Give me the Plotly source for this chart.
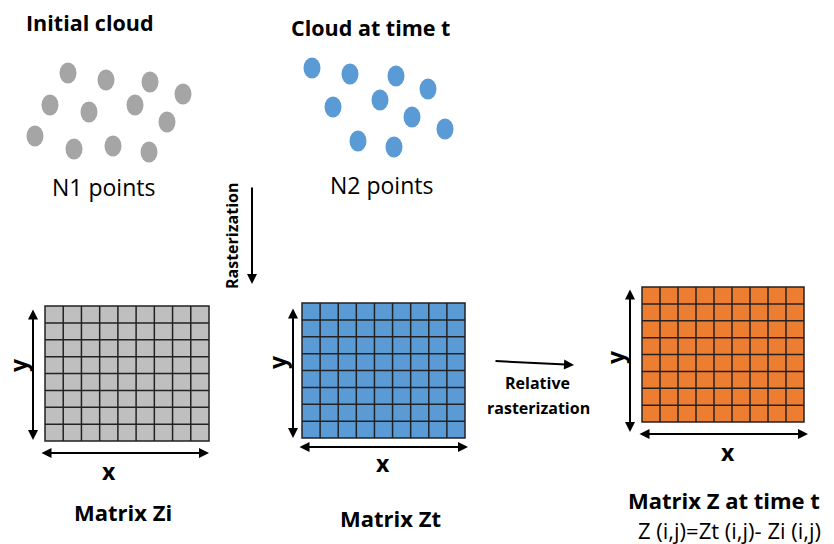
import plotly.graph_objects as go

W, H = 834, 544

# point clouds (pixel centres)
initial_x = [68, 106, 150, 183, 50, 89, 135, 167, 35, 74, 113, 149]
initial_y = [73, 80, 82, 94, 105, 112, 105, 122, 136, 149, 146, 152]
later_x = [312, 350, 396, 428, 333, 380, 412, 445, 358, 394]
later_y = [68, 74, 76, 89, 107, 100, 117, 129, 141, 147]

# matrices: left, right, top, bottom
n_cols, n_rows = 9, 8
matrix_names = ["Zi", "Zt", "Z"]
matrix_box = [(45, 209, 306, 441), (302, 465, 303, 438), (642, 804, 287, 422)]
matrix_fill = ["#BFBFBF", "#5B9BD5", "#ED7D31"]

GRAY = "#A5A5A5"
BLUE = "#5B9BD5"
FONT = "Open Sans"

fig = go.Figure()
shapes = []

# dots as ellipses
for xs, ys, col in [(initial_x, initial_y, GRAY), (later_x, later_y, BLUE)]:
    for cx, cy in zip(xs, ys):
        shapes.append(dict(type="circle", xref="x", yref="y",
                           x0=cx - 8.5, x1=cx + 8.5, y0=cy - 10.5, y1=cy + 10.5,
                           fillcolor=col, line=dict(width=0)))

# grids
for (l, r, t, b), col in zip(matrix_box, matrix_fill):
    shapes.append(dict(type="rect", xref="x", yref="y", x0=l, x1=r, y0=t, y1=b,
                       fillcolor=col, line=dict(color="#222222", width=1.5)))
    for i in range(1, n_cols):
        xx = l + (r - l) * i / n_cols
        shapes.append(dict(type="line", xref="x", yref="y", x0=xx, x1=xx, y0=t, y1=b,
                           line=dict(color="#222222", width=1.5)))
    for j in range(1, n_rows):
        yy = t + (b - t) * j / n_rows
        shapes.append(dict(type="line", xref="x", yref="y", x0=l, x1=r, y0=yy, y1=yy,
                           line=dict(color="#222222", width=1.5)))

annotations = []


def text(x, y, s, size=22, bold=True, angle=0):
    annotations.append(dict(x=x, y=y, xref="x", yref="y", text=("<b>%s</b>" % s) if bold else s,
                            showarrow=False, textangle=angle,
                            font=dict(family=FONT, size=size, color="black"),
                            xanchor="center", yanchor="middle"))


def arrow(x0, y0, x1, y1, both=False):
    annotations.append(dict(x=x1, y=y1, ax=x0, ay=y0, xref="x", yref="y",
                            axref="x", ayref="y", text="", showarrow=True,
                            arrowhead=2, arrowsize=1, arrowwidth=2, arrowcolor="black",
                            startarrowhead=2, startarrowsize=1,
                            arrowside="end+start" if both else "end"))


text(90, 22, "Initial cloud", size=21.5)
text(370, 27, "Cloud at time t", size=21.5)
text(103, 187, "N1 points", size=23, bold=False)
text(381, 185, "N2 points", size=23, bold=False)

arrow(252, 186, 252, 284)
text(232, 236, "Rasterization", size=16, angle=-90)

# axis arrows and labels of the three matrices
arrow(33, 308, 33, 440, both=True)
arrow(40, 453, 209, 453, both=True)
text(18, 365, "y", size=23, angle=-90)
text(109, 471, "x", size=23)
text(123, 512, "Matrix Zi")

arrow(293, 307, 293, 438, both=True)
arrow(298, 447, 468, 447, both=True)
text(277, 362, "y", size=23, angle=-90)
text(383, 463, "x", size=23)
text(390, 518, "Matrix Zt")

arrow(630, 288, 630, 432, both=True)
arrow(638, 434, 808, 434, both=True)
text(615, 357, "y", size=23, angle=-90)
text(728, 452, "x", size=23)

arrow(494, 361, 574, 365)
text(537, 383, "Relative", size=16)
text(538, 408, "rasterization", size=16)

text(724, 500, "Matrix Z at time t")
text(729, 530, "Z (i,j)=Zt (i,j)- Zi (i,j)", size=22, bold=False)

fig.update_layout(
    width=W, height=H,
    margin=dict(l=0, r=0, t=0, b=0),
    paper_bgcolor="white", plot_bgcolor="white",
    xaxis=dict(range=[0, W], visible=False, fixedrange=True),
    yaxis=dict(range=[H, 0], visible=False, fixedrange=True),
    shapes=shapes, annotations=annotations, showlegend=False,
)

fig.write_html("out.html", config={"displayModeBar": False},
               post_script="document.body.style.margin='0';document.body.style.overflow='hidden';")
